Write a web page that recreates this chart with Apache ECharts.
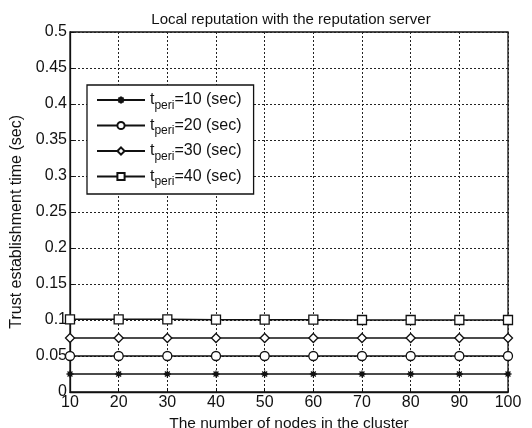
<!DOCTYPE html>
<html><head><meta charset="utf-8">
<script src="https://cdn.jsdelivr.net/npm/echarts@6/dist/echarts.min.js"></script>
<style>html,body{margin:0;padding:0;background:#fff}#c{width:532px;height:428px}</style>
</head><body><div id="c"></div>
<script>
var nodes = [10, 20, 30, 40, 50, 60, 70, 80, 90, 100];
var peri10 = [0.025, 0.025, 0.025, 0.025, 0.025, 0.025, 0.025, 0.025, 0.025, 0.025];
var peri20 = [0.05, 0.05, 0.05, 0.05, 0.05, 0.05, 0.05, 0.05, 0.05, 0.05];
var peri30 = [0.075, 0.075, 0.075, 0.075, 0.075, 0.075, 0.075, 0.075, 0.075, 0.075];
var peri40 = [0.101, 0.101, 0.101, 0.1005, 0.1005, 0.1005, 0.1, 0.1, 0.1, 0.1];
var seriesNames = ['p10', 'p20', 'p30', 'p40'];
var seriesLabels = {p10: '10', p20: '20', p30: '30', p40: '40'};
var titleText = 'Local reputation with the reputation server';
var xName = 'The number of nodes in the cluster';
var yName = 'Trust establishment time (sec)';

function pairs(arr) { return nodes.map(function (x, i) { return [x, arr[i]]; }); }
var font = 'Liberation Sans, Arial, sans-serif';
var star = 'path://M0,-5L0,5M-5,0L5,0M-3.5,-3.5L3.5,3.5M-3.5,3.5L3.5,-3.5M-2,-2L2,-2L2,2L-2,2Z';

function mk(name, data, symbol, size, fill) {
  return {
    name: name, type: 'line', data: pairs(data), symbol: symbol, symbolSize: size,
    lineStyle: {color: '#111', width: 1.5},
    itemStyle: {color: fill, borderColor: '#111', borderWidth: 1.3},
    emphasis: {disabled: true}, animation: false
  };
}

var chart = echarts.init(document.getElementById('c'));
chart.setOption({
  animation: false,
  backgroundColor: '#fff',
  title: {text: titleText, left: 286, top: 7, textAlign: 'center',
    textStyle: {fontFamily: font, fontSize: 15, fontWeight: 'normal', color: '#111'}},
  grid: {left: 70, right: 24, top: 32, bottom: 36, outerBoundsMode: 'none', containLabel: false,
    show: true, borderColor: '#111', borderWidth: 1.3, backgroundColor: 'transparent'},
  legend: {
    orient: 'vertical', left: 87, top: 85, width: 169, height: 110,
    padding: [7, 12, 6, 9], itemGap: 6, itemWidth: 48, itemHeight: 9,
    backgroundColor: '#fff', borderColor: '#111', borderWidth: 1.3,
    data: seriesNames,
    formatter: function (n) { return 't{sub|peri}=' + seriesLabels[n] + ' (sec)'; },
    textStyle: {fontFamily: font, fontSize: 16, color: '#111',
      rich: {sub: {fontFamily: font, fontSize: 12, color: '#111', padding: [11, 0, 0, 0]}}}
  },
  graphic: [{
    type: 'text', left: 9, top: 115, rotation: Math.PI / 2, silent: true,
    style: {text: yName, x: 0, y: 0, fontFamily: font, fontSize: 16, fill: '#111'}
  }],
  xAxis: {
    type: 'value', min: 10, max: 100, interval: 10,
    name: xName, nameLocation: 'middle', nameGap: 22,
    nameTextStyle: {fontFamily: font, fontSize: 15.5, color: '#111'},
    axisLine: {lineStyle: {color: '#111', width: 1.3}},
    axisTick: {inside: true, length: 4, lineStyle: {color: '#111'}},
    axisLabel: {fontFamily: font, fontSize: 16, color: '#111', margin: 3},
    splitLine: {show: true, lineStyle: {color: '#222', type: [2, 2], width: 1}}
  },
  yAxis: {
    type: 'value', min: 0, max: 0.5, interval: 0.05,
    axisLine: {lineStyle: {color: '#111', width: 1.3}},
    axisTick: {inside: true, length: 4, lineStyle: {color: '#111'}},
    axisLabel: {fontFamily: font, fontSize: 16, color: '#111', margin: 3},
    splitLine: {show: true, lineStyle: {color: '#222', type: [2, 2], width: 1}}
  },
  series: [
    mk('p10', peri10, star, 7, '#111'),
    mk('p20', peri20, 'circle', 9, '#fff'),
    mk('p30', peri30, 'diamond', 9, '#fff'),
    mk('p40', peri40, 'rect', 9, '#fff')
  ]
});
</script></body></html>
